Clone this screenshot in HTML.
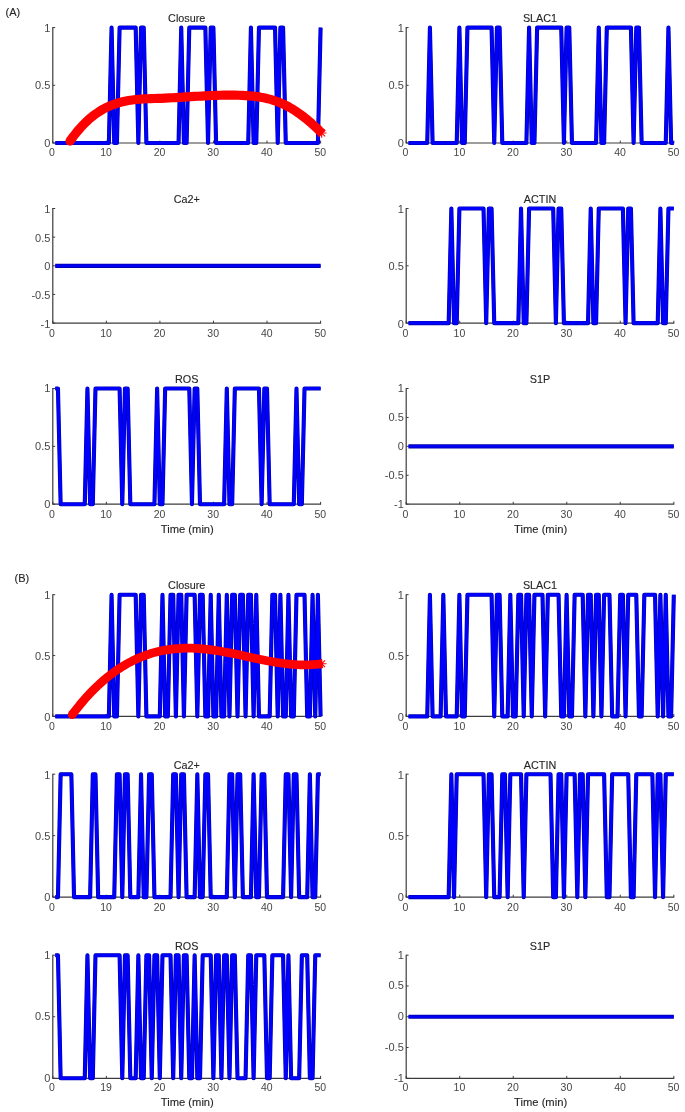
<!DOCTYPE html>
<html><head><meta charset="utf-8"><title>Figure</title>
<style>html,body{margin:0;padding:0;background:#fff}svg{display:block}</style>
</head><body>
<svg width="685" height="1112" viewBox="0 0 685 1112">
<rect width="685" height="1112" fill="#fff"/>
<g font-family="'Liberation Sans', Arial, Helvetica, sans-serif" fill="#262626" stroke="#262626" stroke-width="0.12">
<g><path d="M52.8 27.1 V143 H321.1" fill="none" stroke="#3c3c3c" stroke-width="1.2"/><path d="M52.8 143 v-2.4 M106.36 143 v-2.4 M159.92 143 v-2.4 M213.48 143 v-2.4 M267.04 143 v-2.4 M320.6 143 v-2.4 M52.8 143 h2.4 M52.8 85.3 h2.4 M52.8 27.6 h2.4" fill="none" stroke="#3c3c3c" stroke-width="1"/><text x="51.9" y="156.1" font-size="10.5" text-anchor="middle" fill="#464646" stroke="none">0</text><text x="106.06" y="156.1" font-size="10.5" text-anchor="middle" fill="#464646" stroke="none">10</text><text x="159.62" y="156.1" font-size="10.5" text-anchor="middle" fill="#464646" stroke="none">20</text><text x="213.18" y="156.1" font-size="10.5" text-anchor="middle" fill="#464646" stroke="none">30</text><text x="266.74" y="156.1" font-size="10.5" text-anchor="middle" fill="#464646" stroke="none">40</text><text x="320.3" y="156.1" font-size="10.5" text-anchor="middle" fill="#464646" stroke="none">50</text><text x="50.4" y="147.1" font-size="11" text-anchor="end" fill="#464646" stroke="none">0</text><text x="50.4" y="89.4" font-size="11" text-anchor="end" fill="#464646" stroke="none">0.5</text><text x="50.4" y="31.7" font-size="11" text-anchor="end" fill="#464646" stroke="none">1</text><text x="186.7" y="21.9" font-size="10.8" text-anchor="middle">Closure</text><polyline points="55.28,143 108.88,143 111.56,27.6 114.24,143 116.92,143 119.6,27.6 135.68,27.6 138.36,143 141.04,27.6 143.72,27.6 146.4,143 178.56,143 181.24,27.6 183.92,143 186.6,143 189.28,27.6 205.36,27.6 208.04,143 210.72,27.6 213.4,27.6 216.08,143 248.24,143 250.92,27.6 253.6,143 256.28,143 258.96,27.6 275.04,27.6 277.72,143 280.4,27.6 283.08,27.6 285.76,143 317.92,143 320.6,27.6" fill="none" stroke="#0000a8" stroke-width="4.1" stroke-linejoin="round" stroke-linecap="butt"/><polyline points="55.28,143 108.88,143 111.56,27.6 114.24,143 116.92,143 119.6,27.6 135.68,27.6 138.36,143 141.04,27.6 143.72,27.6 146.4,143 178.56,143 181.24,27.6 183.92,143 186.6,143 189.28,27.6 205.36,27.6 208.04,143 210.72,27.6 213.4,27.6 216.08,143 248.24,143 250.92,27.6 253.6,143 256.28,143 258.96,27.6 275.04,27.6 277.72,143 280.4,27.6 283.08,27.6 285.76,143 317.92,143 320.6,27.6" fill="none" stroke="#0000ff" stroke-width="2.9999999999999996" stroke-linejoin="round" stroke-linecap="butt"/><polyline points="70.02,141.05 73.68,136 77.34,131.37 81,127.15 84.66,123.32 88.31,119.85 91.97,116.74 95.63,113.95 99.29,111.47 102.95,109.28 106.61,107.37 110.27,105.7 113.93,104.27 117.58,103.06 121.24,102.04 124.9,101.2 128.56,100.51 132.22,99.97 135.88,99.54 139.54,99.21 143.2,98.96 146.85,98.78 150.51,98.64 154.17,98.52 157.83,98.41 161.49,98.28 165.15,98.13 168.81,97.96 172.47,97.77 176.12,97.57 179.78,97.36 183.44,97.14 187.1,96.91 190.76,96.69 194.42,96.46 198.08,96.25 201.74,96.04 205.39,95.85 209.05,95.67 212.71,95.51 216.37,95.38 220.03,95.27 223.69,95.2 227.35,95.15 231.01,95.15 234.67,95.18 238.32,95.26 241.98,95.39 245.64,95.57 249.3,95.83 252.96,96.16 256.62,96.6 260.28,97.15 263.94,97.83 267.59,98.66 271.25,99.63 274.91,100.78 278.57,102.11 282.23,103.64 285.89,105.38 289.55,107.34 293.21,109.51 296.86,111.89 300.52,114.46 304.18,117.23 307.84,120.19 311.5,123.33 315.16,126.64 318.82,130.13 322.48,133.79" fill="none" stroke="#ff0000" stroke-width="9.2" stroke-linejoin="round" stroke-linecap="butt"/><circle cx="70.02" cy="141.05" r="4.6" fill="#ff0000" stroke="none"/><path d="M316.87 132.97h9.6 M321.67 128.17v9.6 M318.27 129.57l6.8 6.8 M318.27 136.37l6.8 -6.8" fill="none" stroke="#ff0000" stroke-width="1.1"/></g>
<g><path d="M406.2 27.1 V143 H674.3" fill="none" stroke="#3c3c3c" stroke-width="1.2"/><path d="M406.2 143 v-2.4 M459.72 143 v-2.4 M513.24 143 v-2.4 M566.76 143 v-2.4 M620.28 143 v-2.4 M673.8 143 v-2.4 M406.2 143 h2.4 M406.2 85.3 h2.4 M406.2 27.6 h2.4" fill="none" stroke="#3c3c3c" stroke-width="1"/><text x="405.3" y="156.1" font-size="10.5" text-anchor="middle" fill="#464646" stroke="none">0</text><text x="459.42" y="156.1" font-size="10.5" text-anchor="middle" fill="#464646" stroke="none">10</text><text x="512.94" y="156.1" font-size="10.5" text-anchor="middle" fill="#464646" stroke="none">20</text><text x="566.46" y="156.1" font-size="10.5" text-anchor="middle" fill="#464646" stroke="none">30</text><text x="619.98" y="156.1" font-size="10.5" text-anchor="middle" fill="#464646" stroke="none">40</text><text x="673.5" y="156.1" font-size="10.5" text-anchor="middle" fill="#464646" stroke="none">50</text><text x="403.8" y="147.1" font-size="11" text-anchor="end" fill="#464646" stroke="none">0</text><text x="403.8" y="89.4" font-size="11" text-anchor="end" fill="#464646" stroke="none">0.5</text><text x="403.8" y="31.7" font-size="11" text-anchor="end" fill="#464646" stroke="none">1</text><text x="540" y="21.9" font-size="10.8" text-anchor="middle">SLAC1</text><polyline points="408.48,143 427.24,143 429.92,27.6 432.6,143 456.72,143 459.4,27.6 462.08,143 464.76,143 467.44,27.6 491.56,27.6 494.24,143 496.92,27.6 499.6,27.6 502.28,143 526.4,143 529.08,27.6 531.76,143 534.44,143 537.12,27.6 561.24,27.6 563.92,143 566.6,27.6 569.28,27.6 571.96,143 596.08,143 598.76,27.6 601.44,143 604.12,143 606.8,27.6 630.92,27.6 633.6,143 636.28,27.6 638.96,27.6 641.64,143 665.76,143 668.44,27.6 671.12,143 673.8,143" fill="none" stroke="#0000a8" stroke-width="4.1" stroke-linejoin="round" stroke-linecap="butt"/><polyline points="408.48,143 427.24,143 429.92,27.6 432.6,143 456.72,143 459.4,27.6 462.08,143 464.76,143 467.44,27.6 491.56,27.6 494.24,143 496.92,27.6 499.6,27.6 502.28,143 526.4,143 529.08,27.6 531.76,143 534.44,143 537.12,27.6 561.24,27.6 563.92,143 566.6,27.6 569.28,27.6 571.96,143 596.08,143 598.76,27.6 601.44,143 604.12,143 606.8,27.6 630.92,27.6 633.6,143 636.28,27.6 638.96,27.6 641.64,143 665.76,143 668.44,27.6 671.12,143 673.8,143" fill="none" stroke="#0000ff" stroke-width="2.9999999999999996" stroke-linejoin="round" stroke-linecap="butt"/></g>
<g><path d="M52.8 208 V323.1 H321.1" fill="none" stroke="#3c3c3c" stroke-width="1.2"/><path d="M52.8 323.1 v-2.4 M106.36 323.1 v-2.4 M159.92 323.1 v-2.4 M213.48 323.1 v-2.4 M267.04 323.1 v-2.4 M320.6 323.1 v-2.4 M52.8 323.1 h2.4 M52.8 294.45 h2.4 M52.8 265.8 h2.4 M52.8 237.15 h2.4 M52.8 208.5 h2.4" fill="none" stroke="#3c3c3c" stroke-width="1"/><text x="51.9" y="337.3" font-size="10.5" text-anchor="middle" fill="#464646" stroke="none">0</text><text x="106.06" y="337.3" font-size="10.5" text-anchor="middle" fill="#464646" stroke="none">10</text><text x="159.62" y="337.3" font-size="10.5" text-anchor="middle" fill="#464646" stroke="none">20</text><text x="213.18" y="337.3" font-size="10.5" text-anchor="middle" fill="#464646" stroke="none">30</text><text x="266.74" y="337.3" font-size="10.5" text-anchor="middle" fill="#464646" stroke="none">40</text><text x="320.3" y="337.3" font-size="10.5" text-anchor="middle" fill="#464646" stroke="none">50</text><text x="50.4" y="327.7" font-size="11" text-anchor="end" fill="#464646" stroke="none">-1</text><text x="50.4" y="299.05" font-size="11" text-anchor="end" fill="#464646" stroke="none">-0.5</text><text x="50.4" y="270.4" font-size="11" text-anchor="end" fill="#464646" stroke="none">0</text><text x="50.4" y="241.75" font-size="11" text-anchor="end" fill="#464646" stroke="none">0.5</text><text x="50.4" y="213.1" font-size="11" text-anchor="end" fill="#464646" stroke="none">1</text><text x="186.7" y="202.8" font-size="10.8" text-anchor="middle">Ca2+</text><polyline points="55.28,265.8 320.6,265.8" fill="none" stroke="#0000a0" stroke-width="4.2"/><polyline points="55.28,265.8 320.6,265.8" fill="none" stroke="#0000f4" stroke-width="2.7"/></g>
<g><path d="M406.2 208 V323.1 H674.3" fill="none" stroke="#3c3c3c" stroke-width="1.2"/><path d="M406.2 323.1 v-2.4 M459.72 323.1 v-2.4 M513.24 323.1 v-2.4 M566.76 323.1 v-2.4 M620.28 323.1 v-2.4 M673.8 323.1 v-2.4 M406.2 323.1 h2.4 M406.2 265.8 h2.4 M406.2 208.5 h2.4" fill="none" stroke="#3c3c3c" stroke-width="1"/><text x="405.3" y="337.3" font-size="10.5" text-anchor="middle" fill="#464646" stroke="none">0</text><text x="459.42" y="337.3" font-size="10.5" text-anchor="middle" fill="#464646" stroke="none">10</text><text x="512.94" y="337.3" font-size="10.5" text-anchor="middle" fill="#464646" stroke="none">20</text><text x="566.46" y="337.3" font-size="10.5" text-anchor="middle" fill="#464646" stroke="none">30</text><text x="619.98" y="337.3" font-size="10.5" text-anchor="middle" fill="#464646" stroke="none">40</text><text x="673.5" y="337.3" font-size="10.5" text-anchor="middle" fill="#464646" stroke="none">50</text><text x="403.8" y="327.7" font-size="11" text-anchor="end" fill="#464646" stroke="none">0</text><text x="403.8" y="270.4" font-size="11" text-anchor="end" fill="#464646" stroke="none">0.5</text><text x="403.8" y="213.1" font-size="11" text-anchor="end" fill="#464646" stroke="none">1</text><text x="540" y="202.8" font-size="10.8" text-anchor="middle">ACTIN</text><polyline points="408.48,323.1 448.68,323.1 451.36,208.5 454.04,323.1 456.72,323.1 459.4,208.5 483.52,208.5 486.2,323.1 488.88,208.5 491.56,208.5 494.24,323.1 518.36,323.1 521.04,208.5 523.72,323.1 526.4,323.1 529.08,208.5 553.2,208.5 555.88,323.1 558.56,208.5 561.24,208.5 563.92,323.1 588.04,323.1 590.72,208.5 593.4,323.1 596.08,323.1 598.76,208.5 622.88,208.5 625.56,323.1 628.24,208.5 630.92,208.5 633.6,323.1 657.72,323.1 660.4,208.5 663.08,323.1 665.76,323.1 668.44,208.5 673.8,208.5" fill="none" stroke="#0000a8" stroke-width="4.1" stroke-linejoin="round" stroke-linecap="butt"/><polyline points="408.48,323.1 448.68,323.1 451.36,208.5 454.04,323.1 456.72,323.1 459.4,208.5 483.52,208.5 486.2,323.1 488.88,208.5 491.56,208.5 494.24,323.1 518.36,323.1 521.04,208.5 523.72,323.1 526.4,323.1 529.08,208.5 553.2,208.5 555.88,323.1 558.56,208.5 561.24,208.5 563.92,323.1 588.04,323.1 590.72,208.5 593.4,323.1 596.08,323.1 598.76,208.5 622.88,208.5 625.56,323.1 628.24,208.5 630.92,208.5 633.6,323.1 657.72,323.1 660.4,208.5 663.08,323.1 665.76,323.1 668.44,208.5 673.8,208.5" fill="none" stroke="#0000ff" stroke-width="2.9999999999999996" stroke-linejoin="round" stroke-linecap="butt"/></g>
<g><path d="M52.8 388 V504.2 H321.1" fill="none" stroke="#3c3c3c" stroke-width="1.2"/><path d="M52.8 504.2 v-2.4 M106.36 504.2 v-2.4 M159.92 504.2 v-2.4 M213.48 504.2 v-2.4 M267.04 504.2 v-2.4 M320.6 504.2 v-2.4 M52.8 504.2 h2.4 M52.8 446.35 h2.4 M52.8 388.5 h2.4" fill="none" stroke="#3c3c3c" stroke-width="1"/><text x="51.9" y="518.2" font-size="10.5" text-anchor="middle" fill="#464646" stroke="none">0</text><text x="106.06" y="518.2" font-size="10.5" text-anchor="middle" fill="#464646" stroke="none">10</text><text x="159.62" y="518.2" font-size="10.5" text-anchor="middle" fill="#464646" stroke="none">20</text><text x="213.18" y="518.2" font-size="10.5" text-anchor="middle" fill="#464646" stroke="none">30</text><text x="266.74" y="518.2" font-size="10.5" text-anchor="middle" fill="#464646" stroke="none">40</text><text x="320.3" y="518.2" font-size="10.5" text-anchor="middle" fill="#464646" stroke="none">50</text><text x="50.4" y="507.9" font-size="11" text-anchor="end" fill="#464646" stroke="none">0</text><text x="50.4" y="450.05" font-size="11" text-anchor="end" fill="#464646" stroke="none">0.5</text><text x="50.4" y="392.2" font-size="11" text-anchor="end" fill="#464646" stroke="none">1</text><text x="186.7" y="382.8" font-size="10.8" text-anchor="middle">ROS</text><text x="187.3" y="533.4" font-size="11.2" text-anchor="middle">Time (min)</text><polyline points="55.28,388.5 57.96,388.5 60.64,504.2 84.76,504.2 87.44,388.5 90.12,504.2 92.8,504.2 95.48,388.5 119.6,388.5 122.28,504.2 124.96,388.5 127.64,388.5 130.32,504.2 154.44,504.2 157.12,388.5 159.8,504.2 162.48,504.2 165.16,388.5 189.28,388.5 191.96,504.2 194.64,388.5 197.32,388.5 200,504.2 224.12,504.2 226.8,388.5 229.48,504.2 232.16,504.2 234.84,388.5 258.96,388.5 261.64,504.2 264.32,388.5 267,388.5 269.68,504.2 293.8,504.2 296.48,388.5 299.16,504.2 301.84,504.2 304.52,388.5 320.6,388.5" fill="none" stroke="#0000a8" stroke-width="4.1" stroke-linejoin="round" stroke-linecap="butt"/><polyline points="55.28,388.5 57.96,388.5 60.64,504.2 84.76,504.2 87.44,388.5 90.12,504.2 92.8,504.2 95.48,388.5 119.6,388.5 122.28,504.2 124.96,388.5 127.64,388.5 130.32,504.2 154.44,504.2 157.12,388.5 159.8,504.2 162.48,504.2 165.16,388.5 189.28,388.5 191.96,504.2 194.64,388.5 197.32,388.5 200,504.2 224.12,504.2 226.8,388.5 229.48,504.2 232.16,504.2 234.84,388.5 258.96,388.5 261.64,504.2 264.32,388.5 267,388.5 269.68,504.2 293.8,504.2 296.48,388.5 299.16,504.2 301.84,504.2 304.52,388.5 320.6,388.5" fill="none" stroke="#0000ff" stroke-width="2.9999999999999996" stroke-linejoin="round" stroke-linecap="butt"/></g>
<g><path d="M406.2 388 V504.2 H674.3" fill="none" stroke="#3c3c3c" stroke-width="1.2"/><path d="M406.2 504.2 v-2.4 M459.72 504.2 v-2.4 M513.24 504.2 v-2.4 M566.76 504.2 v-2.4 M620.28 504.2 v-2.4 M673.8 504.2 v-2.4 M406.2 504.2 h2.4 M406.2 475.27 h2.4 M406.2 446.35 h2.4 M406.2 417.43 h2.4 M406.2 388.5 h2.4" fill="none" stroke="#3c3c3c" stroke-width="1"/><text x="405.3" y="518.2" font-size="10.5" text-anchor="middle" fill="#464646" stroke="none">0</text><text x="459.42" y="518.2" font-size="10.5" text-anchor="middle" fill="#464646" stroke="none">10</text><text x="512.94" y="518.2" font-size="10.5" text-anchor="middle" fill="#464646" stroke="none">20</text><text x="566.46" y="518.2" font-size="10.5" text-anchor="middle" fill="#464646" stroke="none">30</text><text x="619.98" y="518.2" font-size="10.5" text-anchor="middle" fill="#464646" stroke="none">40</text><text x="673.5" y="518.2" font-size="10.5" text-anchor="middle" fill="#464646" stroke="none">50</text><text x="403.8" y="507.9" font-size="11" text-anchor="end" fill="#464646" stroke="none">-1</text><text x="403.8" y="478.97" font-size="11" text-anchor="end" fill="#464646" stroke="none">-0.5</text><text x="403.8" y="450.05" font-size="11" text-anchor="end" fill="#464646" stroke="none">0</text><text x="403.8" y="421.12" font-size="11" text-anchor="end" fill="#464646" stroke="none">0.5</text><text x="403.8" y="392.2" font-size="11" text-anchor="end" fill="#464646" stroke="none">1</text><text x="540" y="382.8" font-size="10.8" text-anchor="middle">S1P</text><text x="540.6" y="533.4" font-size="11.2" text-anchor="middle">Time (min)</text><polyline points="408.48,446.35 673.8,446.35" fill="none" stroke="#0000a0" stroke-width="4.2"/><polyline points="408.48,446.35 673.8,446.35" fill="none" stroke="#0000f4" stroke-width="2.7"/></g>
<g><path d="M52.8 594.2 V716.4 H321.1" fill="none" stroke="#3c3c3c" stroke-width="1.2"/><path d="M52.8 716.4 v-2.4 M106.36 716.4 v-2.4 M159.92 716.4 v-2.4 M213.48 716.4 v-2.4 M267.04 716.4 v-2.4 M320.6 716.4 v-2.4 M52.8 716.4 h2.4 M52.8 655.55 h2.4 M52.8 594.7 h2.4" fill="none" stroke="#3c3c3c" stroke-width="1"/><text x="51.9" y="729.8" font-size="10.5" text-anchor="middle" fill="#464646" stroke="none">0</text><text x="106.06" y="729.8" font-size="10.5" text-anchor="middle" fill="#464646" stroke="none">10</text><text x="159.62" y="729.8" font-size="10.5" text-anchor="middle" fill="#464646" stroke="none">20</text><text x="213.18" y="729.8" font-size="10.5" text-anchor="middle" fill="#464646" stroke="none">30</text><text x="266.74" y="729.8" font-size="10.5" text-anchor="middle" fill="#464646" stroke="none">40</text><text x="320.3" y="729.8" font-size="10.5" text-anchor="middle" fill="#464646" stroke="none">50</text><text x="50.4" y="720.5" font-size="11" text-anchor="end" fill="#464646" stroke="none">0</text><text x="50.4" y="659.65" font-size="11" text-anchor="end" fill="#464646" stroke="none">0.5</text><text x="50.4" y="598.8" font-size="11" text-anchor="end" fill="#464646" stroke="none">1</text><text x="186.7" y="589" font-size="10.8" text-anchor="middle">Closure</text><polyline points="55.28,716.4 108.88,716.4 111.56,594.7 114.24,716.4 116.92,716.4 119.6,594.7 135.68,594.7 138.36,716.4 141.04,594.7 143.72,594.7 146.4,716.4 159.8,716.4 162.48,594.7 165.16,716.4 167.84,716.4 170.52,594.7 173.2,594.7 175.88,716.4 178.56,594.7 181.24,594.7 183.92,716.4 186.6,594.7 194.64,594.7 197.32,716.4 200,594.7 202.68,594.7 205.36,716.4 208.04,716.4 210.72,594.7 213.4,716.4 216.08,716.4 218.76,594.7 221.44,716.4 224.12,716.4 226.8,594.7 229.48,716.4 232.16,594.7 234.84,594.7 237.52,716.4 240.2,594.7 242.88,594.7 245.56,716.4 248.24,594.7 250.92,594.7 253.6,716.4 256.28,594.7 258.96,716.4 269.68,716.4 272.36,594.7 275.04,594.7 277.72,716.4 280.4,594.7 283.08,716.4 285.76,716.4 288.44,594.7 291.12,716.4 293.8,716.4 296.48,594.7 304.52,594.7 307.2,716.4 309.88,716.4 312.56,594.7 315.24,716.4 317.92,594.7 320.6,716.4" fill="none" stroke="#0000a8" stroke-width="4.1" stroke-linejoin="round" stroke-linecap="butt"/><polyline points="55.28,716.4 108.88,716.4 111.56,594.7 114.24,716.4 116.92,716.4 119.6,594.7 135.68,594.7 138.36,716.4 141.04,594.7 143.72,594.7 146.4,716.4 159.8,716.4 162.48,594.7 165.16,716.4 167.84,716.4 170.52,594.7 173.2,594.7 175.88,716.4 178.56,594.7 181.24,594.7 183.92,716.4 186.6,594.7 194.64,594.7 197.32,716.4 200,594.7 202.68,594.7 205.36,716.4 208.04,716.4 210.72,594.7 213.4,716.4 216.08,716.4 218.76,594.7 221.44,716.4 224.12,716.4 226.8,594.7 229.48,716.4 232.16,594.7 234.84,594.7 237.52,716.4 240.2,594.7 242.88,594.7 245.56,716.4 248.24,594.7 250.92,594.7 253.6,716.4 256.28,594.7 258.96,716.4 269.68,716.4 272.36,594.7 275.04,594.7 277.72,716.4 280.4,594.7 283.08,716.4 285.76,716.4 288.44,594.7 291.12,716.4 293.8,716.4 296.48,594.7 304.52,594.7 307.2,716.4 309.88,716.4 312.56,594.7 315.24,716.4 317.92,594.7 320.6,716.4" fill="none" stroke="#0000ff" stroke-width="2.9999999999999996" stroke-linejoin="round" stroke-linecap="butt"/><polyline points="72.16,714.65 75.79,709.92 79.42,705.41 83.05,701.1 86.67,696.99 90.3,693.08 93.93,689.36 97.56,685.84 101.19,682.5 104.81,679.35 108.44,676.37 112.07,673.57 115.7,670.94 119.32,668.48 122.95,666.18 126.58,664.04 130.21,662.05 133.84,660.22 137.46,658.53 141.09,656.99 144.72,655.59 148.35,654.32 151.97,653.18 155.6,652.17 159.23,651.28 162.86,650.52 166.48,649.87 170.11,649.33 173.74,648.89 177.37,648.57 181,648.34 184.62,648.21 188.25,648.17 191.88,648.21 195.51,648.35 199.13,648.56 202.76,648.85 206.39,649.21 210.02,649.64 213.64,650.13 217.27,650.68 220.9,651.28 224.53,651.92 228.16,652.61 231.78,653.32 235.41,654.07 239.04,654.83 242.67,655.6 246.29,656.39 249.92,657.17 253.55,657.95 257.18,658.72 260.8,659.47 264.43,660.2 268.06,660.9 271.69,661.56 275.32,662.18 278.94,662.76 282.57,663.27 286.2,663.73 289.83,664.12 293.45,664.44 297.08,664.68 300.71,664.83 304.34,664.89 307.97,664.85 311.59,664.71 315.22,664.46 318.85,664.09 322.48,663.59" fill="none" stroke="#ff0000" stroke-width="8.7" stroke-linejoin="round" stroke-linecap="butt"/><circle cx="72.16" cy="714.65" r="4.35" fill="#ff0000" stroke="none"/><path d="M316.87 663.71h9.6 M321.67 658.91v9.6 M318.27 660.31l6.8 6.8 M318.27 667.11l6.8 -6.8" fill="none" stroke="#ff0000" stroke-width="1.1"/></g>
<g><path d="M406.2 594.2 V716.4 H674.3" fill="none" stroke="#3c3c3c" stroke-width="1.2"/><path d="M406.2 716.4 v-2.4 M459.72 716.4 v-2.4 M513.24 716.4 v-2.4 M566.76 716.4 v-2.4 M620.28 716.4 v-2.4 M673.8 716.4 v-2.4 M406.2 716.4 h2.4 M406.2 655.55 h2.4 M406.2 594.7 h2.4" fill="none" stroke="#3c3c3c" stroke-width="1"/><text x="405.3" y="729.8" font-size="10.5" text-anchor="middle" fill="#464646" stroke="none">0</text><text x="459.42" y="729.8" font-size="10.5" text-anchor="middle" fill="#464646" stroke="none">10</text><text x="512.94" y="729.8" font-size="10.5" text-anchor="middle" fill="#464646" stroke="none">20</text><text x="566.46" y="729.8" font-size="10.5" text-anchor="middle" fill="#464646" stroke="none">30</text><text x="619.98" y="729.8" font-size="10.5" text-anchor="middle" fill="#464646" stroke="none">40</text><text x="673.5" y="729.8" font-size="10.5" text-anchor="middle" fill="#464646" stroke="none">50</text><text x="403.8" y="720.5" font-size="11" text-anchor="end" fill="#464646" stroke="none">0</text><text x="403.8" y="659.65" font-size="11" text-anchor="end" fill="#464646" stroke="none">0.5</text><text x="403.8" y="598.8" font-size="11" text-anchor="end" fill="#464646" stroke="none">1</text><text x="540" y="589" font-size="10.8" text-anchor="middle">SLAC1</text><polyline points="408.48,716.4 427.24,716.4 429.92,594.7 432.6,716.4 440.64,716.4 443.32,594.7 446,716.4 456.72,716.4 459.4,594.7 462.08,716.4 464.76,716.4 467.44,594.7 491.56,594.7 494.24,716.4 496.92,594.7 499.6,594.7 502.28,716.4 507.64,716.4 510.32,594.7 513,716.4 515.68,716.4 518.36,594.7 521.04,594.7 523.72,716.4 526.4,594.7 529.08,594.7 531.76,716.4 534.44,594.7 542.48,594.7 545.16,716.4 547.84,594.7 558.56,594.7 561.24,716.4 563.92,716.4 566.6,594.7 569.28,716.4 571.96,716.4 574.64,594.7 582.68,594.7 585.36,716.4 588.04,594.7 590.72,594.7 593.4,716.4 596.08,594.7 598.76,594.7 601.44,716.4 604.12,594.7 609.48,594.7 612.16,716.4 617.52,716.4 620.2,594.7 622.88,594.7 625.56,716.4 628.24,594.7 636.28,594.7 638.96,716.4 641.64,716.4 644.32,594.7 655.04,594.7 657.72,716.4 660.4,594.7 663.08,716.4 665.76,594.7 668.44,716.4 671.12,716.4 673.8,594.7" fill="none" stroke="#0000a8" stroke-width="4.1" stroke-linejoin="round" stroke-linecap="butt"/><polyline points="408.48,716.4 427.24,716.4 429.92,594.7 432.6,716.4 440.64,716.4 443.32,594.7 446,716.4 456.72,716.4 459.4,594.7 462.08,716.4 464.76,716.4 467.44,594.7 491.56,594.7 494.24,716.4 496.92,594.7 499.6,594.7 502.28,716.4 507.64,716.4 510.32,594.7 513,716.4 515.68,716.4 518.36,594.7 521.04,594.7 523.72,716.4 526.4,594.7 529.08,594.7 531.76,716.4 534.44,594.7 542.48,594.7 545.16,716.4 547.84,594.7 558.56,594.7 561.24,716.4 563.92,716.4 566.6,594.7 569.28,716.4 571.96,716.4 574.64,594.7 582.68,594.7 585.36,716.4 588.04,594.7 590.72,594.7 593.4,716.4 596.08,594.7 598.76,594.7 601.44,716.4 604.12,594.7 609.48,594.7 612.16,716.4 617.52,716.4 620.2,594.7 622.88,594.7 625.56,716.4 628.24,594.7 636.28,594.7 638.96,716.4 641.64,716.4 644.32,594.7 655.04,594.7 657.72,716.4 660.4,594.7 663.08,716.4 665.76,594.7 668.44,716.4 671.12,716.4 673.8,594.7" fill="none" stroke="#0000ff" stroke-width="2.9999999999999996" stroke-linejoin="round" stroke-linecap="butt"/></g>
<g><path d="M52.8 773.7 V897.1 H321.1" fill="none" stroke="#3c3c3c" stroke-width="1.2"/><path d="M52.8 897.1 v-2.4 M106.36 897.1 v-2.4 M159.92 897.1 v-2.4 M213.48 897.1 v-2.4 M267.04 897.1 v-2.4 M320.6 897.1 v-2.4 M52.8 897.1 h2.4 M52.8 835.65 h2.4 M52.8 774.2 h2.4" fill="none" stroke="#3c3c3c" stroke-width="1"/><text x="51.9" y="910.6" font-size="10.5" text-anchor="middle" fill="#464646" stroke="none">0</text><text x="106.06" y="910.6" font-size="10.5" text-anchor="middle" fill="#464646" stroke="none">10</text><text x="159.62" y="910.6" font-size="10.5" text-anchor="middle" fill="#464646" stroke="none">20</text><text x="213.18" y="910.6" font-size="10.5" text-anchor="middle" fill="#464646" stroke="none">30</text><text x="266.74" y="910.6" font-size="10.5" text-anchor="middle" fill="#464646" stroke="none">40</text><text x="320.3" y="910.6" font-size="10.5" text-anchor="middle" fill="#464646" stroke="none">50</text><text x="50.4" y="901.4" font-size="11" text-anchor="end" fill="#464646" stroke="none">0</text><text x="50.4" y="839.95" font-size="11" text-anchor="end" fill="#464646" stroke="none">0.5</text><text x="50.4" y="778.5" font-size="11" text-anchor="end" fill="#464646" stroke="none">1</text><text x="186.7" y="768.5" font-size="10.8" text-anchor="middle">Ca2+</text><polyline points="55.28,897.1 57.96,897.1 60.64,774.2 71.36,774.2 74.04,897.1 90.12,897.1 92.8,774.2 95.48,774.2 98.16,897.1 114.24,897.1 116.92,774.2 119.6,774.2 122.28,897.1 124.96,774.2 127.64,774.2 130.32,897.1 138.36,897.1 141.04,774.2 143.72,897.1 146.4,897.1 149.08,774.2 151.76,774.2 154.44,897.1 170.52,897.1 173.2,774.2 175.88,774.2 178.56,897.1 181.24,774.2 183.92,774.2 186.6,897.1 194.64,897.1 197.32,774.2 200,897.1 202.68,897.1 205.36,774.2 208.04,774.2 210.72,897.1 226.8,897.1 229.48,774.2 232.16,774.2 234.84,897.1 237.52,774.2 240.2,774.2 242.88,897.1 250.92,897.1 253.6,774.2 256.28,897.1 258.96,897.1 261.64,774.2 264.32,774.2 267,897.1 283.08,897.1 285.76,774.2 288.44,774.2 291.12,897.1 293.8,774.2 296.48,774.2 299.16,897.1 307.2,897.1 309.88,774.2 312.56,897.1 315.24,897.1 317.92,774.2 320.6,774.2" fill="none" stroke="#0000a8" stroke-width="4.1" stroke-linejoin="round" stroke-linecap="butt"/><polyline points="55.28,897.1 57.96,897.1 60.64,774.2 71.36,774.2 74.04,897.1 90.12,897.1 92.8,774.2 95.48,774.2 98.16,897.1 114.24,897.1 116.92,774.2 119.6,774.2 122.28,897.1 124.96,774.2 127.64,774.2 130.32,897.1 138.36,897.1 141.04,774.2 143.72,897.1 146.4,897.1 149.08,774.2 151.76,774.2 154.44,897.1 170.52,897.1 173.2,774.2 175.88,774.2 178.56,897.1 181.24,774.2 183.92,774.2 186.6,897.1 194.64,897.1 197.32,774.2 200,897.1 202.68,897.1 205.36,774.2 208.04,774.2 210.72,897.1 226.8,897.1 229.48,774.2 232.16,774.2 234.84,897.1 237.52,774.2 240.2,774.2 242.88,897.1 250.92,897.1 253.6,774.2 256.28,897.1 258.96,897.1 261.64,774.2 264.32,774.2 267,897.1 283.08,897.1 285.76,774.2 288.44,774.2 291.12,897.1 293.8,774.2 296.48,774.2 299.16,897.1 307.2,897.1 309.88,774.2 312.56,897.1 315.24,897.1 317.92,774.2 320.6,774.2" fill="none" stroke="#0000ff" stroke-width="2.9999999999999996" stroke-linejoin="round" stroke-linecap="butt"/></g>
<g><path d="M406.2 773.7 V897.1 H674.3" fill="none" stroke="#3c3c3c" stroke-width="1.2"/><path d="M406.2 897.1 v-2.4 M459.72 897.1 v-2.4 M513.24 897.1 v-2.4 M566.76 897.1 v-2.4 M620.28 897.1 v-2.4 M673.8 897.1 v-2.4 M406.2 897.1 h2.4 M406.2 835.65 h2.4 M406.2 774.2 h2.4" fill="none" stroke="#3c3c3c" stroke-width="1"/><text x="405.3" y="910.6" font-size="10.5" text-anchor="middle" fill="#464646" stroke="none">0</text><text x="459.42" y="910.6" font-size="10.5" text-anchor="middle" fill="#464646" stroke="none">10</text><text x="512.94" y="910.6" font-size="10.5" text-anchor="middle" fill="#464646" stroke="none">20</text><text x="566.46" y="910.6" font-size="10.5" text-anchor="middle" fill="#464646" stroke="none">30</text><text x="619.98" y="910.6" font-size="10.5" text-anchor="middle" fill="#464646" stroke="none">40</text><text x="673.5" y="910.6" font-size="10.5" text-anchor="middle" fill="#464646" stroke="none">50</text><text x="403.8" y="901.4" font-size="11" text-anchor="end" fill="#464646" stroke="none">0</text><text x="403.8" y="839.95" font-size="11" text-anchor="end" fill="#464646" stroke="none">0.5</text><text x="403.8" y="778.5" font-size="11" text-anchor="end" fill="#464646" stroke="none">1</text><text x="540" y="768.5" font-size="10.8" text-anchor="middle">ACTIN</text><polyline points="408.48,897.1 448.68,897.1 451.36,774.2 454.04,897.1 456.72,774.2 483.52,774.2 486.2,897.1 488.88,774.2 491.56,774.2 494.24,897.1 499.6,897.1 502.28,774.2 504.96,774.2 507.64,897.1 510.32,774.2 521.04,774.2 523.72,897.1 526.4,774.2 550.52,774.2 553.2,897.1 555.88,897.1 558.56,774.2 561.24,774.2 563.92,897.1 566.6,774.2 574.64,774.2 577.32,897.1 580,774.2 582.68,774.2 585.36,897.1 588.04,774.2 604.12,774.2 606.8,897.1 609.48,897.1 612.16,774.2 628.24,774.2 630.92,897.1 633.6,897.1 636.28,774.2 652.36,774.2 655.04,897.1 657.72,774.2 660.4,774.2 663.08,897.1 665.76,774.2 673.8,774.2" fill="none" stroke="#0000a8" stroke-width="4.1" stroke-linejoin="round" stroke-linecap="butt"/><polyline points="408.48,897.1 448.68,897.1 451.36,774.2 454.04,897.1 456.72,774.2 483.52,774.2 486.2,897.1 488.88,774.2 491.56,774.2 494.24,897.1 499.6,897.1 502.28,774.2 504.96,774.2 507.64,897.1 510.32,774.2 521.04,774.2 523.72,897.1 526.4,774.2 550.52,774.2 553.2,897.1 555.88,897.1 558.56,774.2 561.24,774.2 563.92,897.1 566.6,774.2 574.64,774.2 577.32,897.1 580,774.2 582.68,774.2 585.36,897.1 588.04,774.2 604.12,774.2 606.8,897.1 609.48,897.1 612.16,774.2 628.24,774.2 630.92,897.1 633.6,897.1 636.28,774.2 652.36,774.2 655.04,897.1 657.72,774.2 660.4,774.2 663.08,897.1 665.76,774.2 673.8,774.2" fill="none" stroke="#0000ff" stroke-width="2.9999999999999996" stroke-linejoin="round" stroke-linecap="butt"/></g>
<g><path d="M52.8 954.7 V1078.3 H321.1" fill="none" stroke="#3c3c3c" stroke-width="1.2"/><path d="M52.8 1078.3 v-2.4 M106.36 1078.3 v-2.4 M159.92 1078.3 v-2.4 M213.48 1078.3 v-2.4 M267.04 1078.3 v-2.4 M320.6 1078.3 v-2.4 M52.8 1078.3 h2.4 M52.8 1016.75 h2.4 M52.8 955.2 h2.4" fill="none" stroke="#3c3c3c" stroke-width="1"/><text x="51.9" y="1091.4" font-size="10.5" text-anchor="middle" fill="#464646" stroke="none">0</text><text x="106.06" y="1091.4" font-size="10.5" text-anchor="middle" fill="#464646" stroke="none">19</text><text x="159.62" y="1091.4" font-size="10.5" text-anchor="middle" fill="#464646" stroke="none">20</text><text x="213.18" y="1091.4" font-size="10.5" text-anchor="middle" fill="#464646" stroke="none">30</text><text x="266.74" y="1091.4" font-size="10.5" text-anchor="middle" fill="#464646" stroke="none">40</text><text x="320.3" y="1091.4" font-size="10.5" text-anchor="middle" fill="#464646" stroke="none">50</text><text x="50.4" y="1081.8" font-size="11" text-anchor="end" fill="#464646" stroke="none">0</text><text x="50.4" y="1020.25" font-size="11" text-anchor="end" fill="#464646" stroke="none">0.5</text><text x="50.4" y="958.7" font-size="11" text-anchor="end" fill="#464646" stroke="none">1</text><text x="186.7" y="949.5" font-size="10.8" text-anchor="middle">ROS</text><text x="187.3" y="1106.1" font-size="11.2" text-anchor="middle">Time (min)</text><polyline points="55.28,955.2 57.96,955.2 60.64,1078.3 84.76,1078.3 87.44,955.2 90.12,1078.3 92.8,1078.3 95.48,955.2 119.6,955.2 122.28,1078.3 124.96,955.2 127.64,955.2 130.32,1078.3 135.68,1078.3 138.36,955.2 141.04,1078.3 143.72,1078.3 146.4,955.2 149.08,955.2 151.76,1078.3 154.44,955.2 157.12,955.2 159.8,1078.3 162.48,955.2 170.52,955.2 173.2,1078.3 175.88,955.2 178.56,955.2 181.24,1078.3 183.92,955.2 186.6,955.2 189.28,1078.3 191.96,1078.3 194.64,955.2 197.32,1078.3 200,1078.3 202.68,955.2 210.72,955.2 213.4,1078.3 216.08,955.2 218.76,955.2 221.44,1078.3 224.12,955.2 226.8,955.2 229.48,1078.3 232.16,955.2 234.84,955.2 237.52,1078.3 245.56,1078.3 248.24,955.2 250.92,955.2 253.6,1078.3 256.28,955.2 264.32,955.2 267,1078.3 269.68,1078.3 272.36,955.2 283.08,955.2 285.76,1078.3 288.44,955.2 291.12,1078.3 299.16,1078.3 301.84,955.2 307.2,955.2 309.88,1078.3 312.56,1078.3 315.24,955.2 320.6,955.2" fill="none" stroke="#0000a8" stroke-width="4.1" stroke-linejoin="round" stroke-linecap="butt"/><polyline points="55.28,955.2 57.96,955.2 60.64,1078.3 84.76,1078.3 87.44,955.2 90.12,1078.3 92.8,1078.3 95.48,955.2 119.6,955.2 122.28,1078.3 124.96,955.2 127.64,955.2 130.32,1078.3 135.68,1078.3 138.36,955.2 141.04,1078.3 143.72,1078.3 146.4,955.2 149.08,955.2 151.76,1078.3 154.44,955.2 157.12,955.2 159.8,1078.3 162.48,955.2 170.52,955.2 173.2,1078.3 175.88,955.2 178.56,955.2 181.24,1078.3 183.92,955.2 186.6,955.2 189.28,1078.3 191.96,1078.3 194.64,955.2 197.32,1078.3 200,1078.3 202.68,955.2 210.72,955.2 213.4,1078.3 216.08,955.2 218.76,955.2 221.44,1078.3 224.12,955.2 226.8,955.2 229.48,1078.3 232.16,955.2 234.84,955.2 237.52,1078.3 245.56,1078.3 248.24,955.2 250.92,955.2 253.6,1078.3 256.28,955.2 264.32,955.2 267,1078.3 269.68,1078.3 272.36,955.2 283.08,955.2 285.76,1078.3 288.44,955.2 291.12,1078.3 299.16,1078.3 301.84,955.2 307.2,955.2 309.88,1078.3 312.56,1078.3 315.24,955.2 320.6,955.2" fill="none" stroke="#0000ff" stroke-width="2.9999999999999996" stroke-linejoin="round" stroke-linecap="butt"/></g>
<g><path d="M406.2 954.7 V1078.3 H674.3" fill="none" stroke="#3c3c3c" stroke-width="1.2"/><path d="M406.2 1078.3 v-2.4 M459.72 1078.3 v-2.4 M513.24 1078.3 v-2.4 M566.76 1078.3 v-2.4 M620.28 1078.3 v-2.4 M673.8 1078.3 v-2.4 M406.2 1078.3 h2.4 M406.2 1047.53 h2.4 M406.2 1016.75 h2.4 M406.2 985.98 h2.4 M406.2 955.2 h2.4" fill="none" stroke="#3c3c3c" stroke-width="1"/><text x="405.3" y="1091.4" font-size="10.5" text-anchor="middle" fill="#464646" stroke="none">0</text><text x="459.42" y="1091.4" font-size="10.5" text-anchor="middle" fill="#464646" stroke="none">10</text><text x="512.94" y="1091.4" font-size="10.5" text-anchor="middle" fill="#464646" stroke="none">20</text><text x="566.46" y="1091.4" font-size="10.5" text-anchor="middle" fill="#464646" stroke="none">30</text><text x="619.98" y="1091.4" font-size="10.5" text-anchor="middle" fill="#464646" stroke="none">40</text><text x="673.5" y="1091.4" font-size="10.5" text-anchor="middle" fill="#464646" stroke="none">50</text><text x="403.8" y="1081.8" font-size="11" text-anchor="end" fill="#464646" stroke="none">-1</text><text x="403.8" y="1051.03" font-size="11" text-anchor="end" fill="#464646" stroke="none">-0.5</text><text x="403.8" y="1020.25" font-size="11" text-anchor="end" fill="#464646" stroke="none">0</text><text x="403.8" y="989.48" font-size="11" text-anchor="end" fill="#464646" stroke="none">0.5</text><text x="403.8" y="958.7" font-size="11" text-anchor="end" fill="#464646" stroke="none">1</text><text x="540" y="949.5" font-size="10.8" text-anchor="middle">S1P</text><text x="540.6" y="1106.1" font-size="11.2" text-anchor="middle">Time (min)</text><polyline points="408.48,1016.75 673.8,1016.75" fill="none" stroke="#0000a0" stroke-width="4.2"/><polyline points="408.48,1016.75 673.8,1016.75" fill="none" stroke="#0000f4" stroke-width="2.7"/></g>
<text x="5.5" y="16.3" font-size="11">(A)</text>
<text x="14.5" y="582.2" font-size="11">(B)</text>
</g></svg>
</body></html>
